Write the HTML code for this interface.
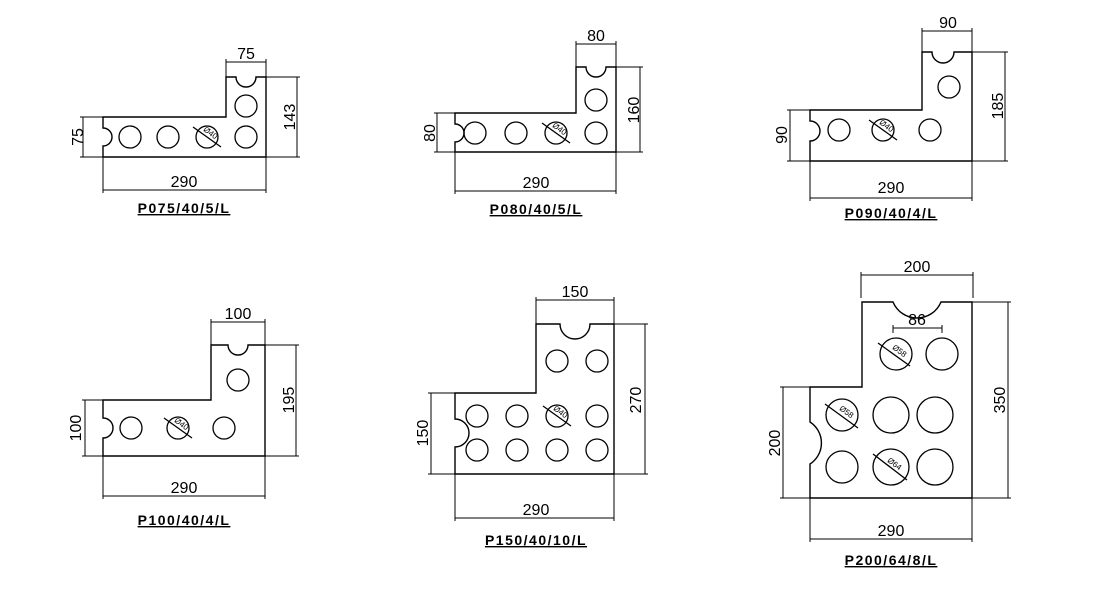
<!DOCTYPE html>
<html><head><meta charset="utf-8"><style>
html,body{margin:0;padding:0;background:#fff;width:1095px;height:600px;overflow:hidden}
svg{display:block}
text{font-family:"Liberation Sans Narrow","Liberation Sans",sans-serif;font-size:16px;fill:#000}
.lb{font-size:14px;font-weight:bold;letter-spacing:1.5px}
.d{font-size:8px}
</style></head><body>
<svg width="1095" height="600" viewBox="0 0 1095 600" fill="none" stroke="#000" stroke-width="1.4">
<!-- Shape 1 -->
<path d="M103,157 L103,146 A9,9 0 0 0 103,128 L103,117 L226,117 L226,77 L236,77 A10,10 0 0 0 256,77 L266,77 L266,157 Z"/>
<g stroke-width="1.3"><circle cx="130" cy="137" r="11"/><circle cx="168" cy="137" r="11"/><circle cx="207" cy="137" r="11"/><circle cx="246" cy="137" r="11"/><circle cx="246" cy="106" r="11"/><line x1="193" y1="127" x2="221" y2="147"/></g>
<g stroke-width="1"><line x1="83" y1="117" x2="83" y2="157"/><line x1="80" y1="117" x2="103" y2="117"/><line x1="80" y1="157" x2="103" y2="157"/>
<line x1="297" y1="77" x2="297" y2="157"/><line x1="266" y1="77" x2="300" y2="77"/><line x1="266" y1="157" x2="300" y2="157"/>
<line x1="103" y1="190" x2="266" y2="190"/><line x1="103" y1="157" x2="103" y2="193"/><line x1="266" y1="157" x2="266" y2="193"/>
<line x1="226" y1="62" x2="266" y2="62"/><line x1="226" y1="59" x2="226" y2="95"/><line x1="266" y1="59" x2="266" y2="95"/></g>
<g stroke="none"><text x="78" y="137" text-anchor="middle" transform="rotate(-90 78 137)" dy="5">75</text><text x="290" y="117" text-anchor="middle" transform="rotate(-90 290 117)" dy="5">143</text><text x="184" y="187" text-anchor="middle">290</text><text x="246" y="59" text-anchor="middle">75</text><text class="d" x="209" y="135" transform="rotate(36 209 135)" text-anchor="middle">Ø40</text><text class="lb" x="184" y="213" text-anchor="middle" text-decoration="underline">P075/40/5/L</text></g>

<!-- Shape 2 -->
<path d="M455,152 L455,142 A9,9 0 0 0 455,124 L455,113 L576,113 L576,67 L586,67 A10,10 0 0 0 606,67 L616,67 L616,152 Z"/>
<g stroke-width="1.3"><circle cx="475" cy="133" r="11"/><circle cx="516" cy="133" r="11"/><circle cx="556" cy="133" r="11"/><circle cx="596" cy="133" r="11"/><circle cx="596" cy="100" r="11"/><line x1="542" y1="123" x2="570" y2="143"/></g>
<g stroke-width="1"><line x1="437" y1="113" x2="437" y2="152"/><line x1="434" y1="113" x2="455" y2="113"/><line x1="434" y1="152" x2="455" y2="152"/>
<line x1="640" y1="67" x2="640" y2="152"/><line x1="616" y1="67" x2="643" y2="67"/><line x1="616" y1="152" x2="643" y2="152"/>
<line x1="455" y1="191" x2="616" y2="191"/><line x1="455" y1="152" x2="455" y2="194"/><line x1="616" y1="152" x2="616" y2="194"/>
<line x1="576" y1="44" x2="616" y2="44"/><line x1="576" y1="41" x2="576" y2="85"/><line x1="616" y1="41" x2="616" y2="85"/></g>
<g stroke="none"><text x="430" y="133" text-anchor="middle" transform="rotate(-90 430 133)" dy="5">80</text><text x="634" y="110" text-anchor="middle" transform="rotate(-90 634 110)" dy="5">160</text><text x="536" y="188" text-anchor="middle">290</text><text x="596" y="41" text-anchor="middle">80</text><text class="d" x="558" y="131" transform="rotate(36 558 131)" text-anchor="middle">Ø40</text><text class="lb" x="536" y="214" text-anchor="middle" text-decoration="underline">P080/40/5/L</text></g>

<!-- Shape 3 -->
<path d="M810,161 L810,141 A10,10 0 0 0 810,121 L810,110 L922,110 L922,52 L932,52 A11,11 0 0 0 954,52 L972,52 L972,161 Z"/>
<g stroke-width="1.3"><circle cx="839" cy="130" r="11"/><circle cx="883" cy="130" r="11"/><circle cx="930" cy="130" r="11"/><circle cx="949" cy="87" r="11"/><line x1="869" y1="120" x2="897" y2="140"/></g>
<g stroke-width="1"><line x1="790" y1="110" x2="790" y2="161"/><line x1="787" y1="110" x2="810" y2="110"/><line x1="787" y1="161" x2="810" y2="161"/>
<line x1="1005" y1="52" x2="1005" y2="161"/><line x1="972" y1="52" x2="1008" y2="52"/><line x1="972" y1="161" x2="1008" y2="161"/>
<line x1="810" y1="198" x2="972" y2="198"/><line x1="810" y1="161" x2="810" y2="201"/><line x1="972" y1="161" x2="972" y2="201"/>
<line x1="922" y1="31" x2="972" y2="31"/><line x1="922" y1="28" x2="922" y2="70"/><line x1="972" y1="28" x2="972" y2="70"/></g>
<g stroke="none"><text x="782" y="135" text-anchor="middle" transform="rotate(-90 782 135)" dy="5">90</text><text x="998" y="106" text-anchor="middle" transform="rotate(-90 998 106)" dy="5">185</text><text x="891" y="193" text-anchor="middle">290</text><text x="948" y="28" text-anchor="middle">90</text><text class="d" x="885" y="128" transform="rotate(36 885 128)" text-anchor="middle">Ø40</text><text class="lb" x="891" y="218" text-anchor="middle" text-decoration="underline">P090/40/4/L</text></g>

<!-- Shape 4 -->
<path d="M103,456 L103,438 A10,10 0 0 0 103,418 L103,400 L211,400 L211,345 L228,345 A10,10 0 0 0 248,345 L265,345 L265,456 Z"/>
<g stroke-width="1.3"><circle cx="131" cy="428" r="11"/><circle cx="178" cy="428" r="11"/><circle cx="224" cy="428" r="11"/><circle cx="238" cy="380" r="11"/><line x1="164" y1="418" x2="192" y2="438"/></g>
<g stroke-width="1"><line x1="85" y1="400" x2="85" y2="456"/><line x1="82" y1="400" x2="103" y2="400"/><line x1="82" y1="456" x2="103" y2="456"/>
<line x1="296" y1="345" x2="296" y2="456"/><line x1="265" y1="345" x2="299" y2="345"/><line x1="265" y1="456" x2="299" y2="456"/>
<line x1="103" y1="496" x2="265" y2="496"/><line x1="103" y1="456" x2="103" y2="499"/><line x1="265" y1="456" x2="265" y2="499"/>
<line x1="211" y1="322" x2="265" y2="322"/><line x1="211" y1="319" x2="211" y2="360"/><line x1="265" y1="319" x2="265" y2="360"/></g>
<g stroke="none"><text x="76" y="428" text-anchor="middle" transform="rotate(-90 76 428)" dy="5">100</text><text x="289" y="400" text-anchor="middle" transform="rotate(-90 289 400)" dy="5">195</text><text x="184" y="493" text-anchor="middle">290</text><text x="238" y="319" text-anchor="middle">100</text><text class="d" x="180" y="426" transform="rotate(36 180 426)" text-anchor="middle">Ø40</text><text class="lb" x="184" y="525" text-anchor="middle" text-decoration="underline">P100/40/4/L</text></g>

<!-- Shape 5 -->
<path d="M455,474 L455,447 A14,14 0 0 0 455,419 L455,393 L536,393 L536,324 L560,324 A15,15 0 0 0 590,324 L614,324 L614,474 Z"/>
<g stroke-width="1.3"><circle cx="477" cy="416" r="11"/><circle cx="517" cy="416" r="11"/><circle cx="557" cy="416" r="11"/><circle cx="597" cy="416" r="11"/><circle cx="477" cy="450" r="11"/><circle cx="517" cy="450" r="11"/><circle cx="557" cy="450" r="11"/><circle cx="597" cy="450" r="11"/><circle cx="557" cy="361" r="11"/><circle cx="597" cy="361" r="11"/><line x1="543" y1="406" x2="571" y2="426"/></g>
<g stroke-width="1"><line x1="431" y1="393" x2="431" y2="474"/><line x1="428" y1="393" x2="455" y2="393"/><line x1="428" y1="474" x2="455" y2="474"/>
<line x1="645" y1="324" x2="645" y2="474"/><line x1="614" y1="324" x2="648" y2="324"/><line x1="614" y1="474" x2="648" y2="474"/>
<line x1="455" y1="518" x2="614" y2="518"/><line x1="455" y1="474" x2="455" y2="521"/><line x1="614" y1="474" x2="614" y2="521"/>
<line x1="536" y1="300" x2="614" y2="300"/><line x1="536" y1="297" x2="536" y2="338"/><line x1="614" y1="297" x2="614" y2="338"/></g>
<g stroke="none"><text x="423" y="433" text-anchor="middle" transform="rotate(-90 423 433)" dy="5">150</text><text x="636" y="400" text-anchor="middle" transform="rotate(-90 636 400)" dy="5">270</text><text x="536" y="515" text-anchor="middle">290</text><text x="575" y="297" text-anchor="middle">150</text><text class="d" x="559" y="414" transform="rotate(36 559 414)" text-anchor="middle">Ø40</text><text class="lb" x="536" y="545" text-anchor="middle" text-decoration="underline">P150/40/10/L</text></g>

<!-- Shape 6 -->
<path d="M810,498 L810,464 A25,25 0 0 0 810,422 L810,387 L862,387 L862,302 L893,302 A26,26 0 0 0 941,302 L972,302 L972,498 Z"/>
<g stroke-width="1.3"><circle cx="896" cy="354" r="16"/><circle cx="942" cy="354" r="16"/><circle cx="842" cy="415" r="16"/><circle cx="891" cy="415" r="18"/><circle cx="935" cy="415" r="18"/><circle cx="842" cy="467" r="16"/><circle cx="891" cy="467" r="18"/><circle cx="935" cy="467" r="18"/>
<line x1="878" y1="343" x2="910" y2="366"/><line x1="825" y1="404" x2="858" y2="428"/><line x1="873" y1="454" x2="907" y2="480"/></g>
<g stroke-width="1"><line x1="783" y1="387" x2="783" y2="498"/><line x1="780" y1="387" x2="810" y2="387"/><line x1="780" y1="498" x2="810" y2="498"/>
<line x1="1008" y1="302" x2="1008" y2="498"/><line x1="972" y1="302" x2="1011" y2="302"/><line x1="972" y1="498" x2="1011" y2="498"/>
<line x1="810" y1="539" x2="972" y2="539"/><line x1="810" y1="498" x2="810" y2="542"/><line x1="972" y1="498" x2="972" y2="542"/>
<line x1="861" y1="275" x2="973" y2="275"/><line x1="861" y1="272" x2="861" y2="298"/><line x1="973" y1="272" x2="973" y2="298"/>
<line x1="893" y1="328" x2="942" y2="328"/><line x1="893" y1="325" x2="893" y2="333"/><line x1="942" y1="325" x2="942" y2="333"/></g>
<g stroke="none"><text x="775" y="443" text-anchor="middle" transform="rotate(-90 775 443)" dy="5">200</text><text x="1000" y="400" text-anchor="middle" transform="rotate(-90 1000 400)" dy="5">350</text><text x="891" y="536" text-anchor="middle">290</text><text x="917" y="272" text-anchor="middle">200</text><text x="917" y="325" text-anchor="middle">86</text>
<text class="d" x="898" y="353" transform="rotate(36 898 353)" text-anchor="middle">Ø58</text><text class="d" x="845" y="414" transform="rotate(36 845 414)" text-anchor="middle">Ø58</text><text class="d" x="893" y="466" transform="rotate(36 893 466)" text-anchor="middle">Ø64</text>
<text class="lb" x="891" y="565" text-anchor="middle" text-decoration="underline">P200/64/8/L</text></g>
</svg>
</body></html>
